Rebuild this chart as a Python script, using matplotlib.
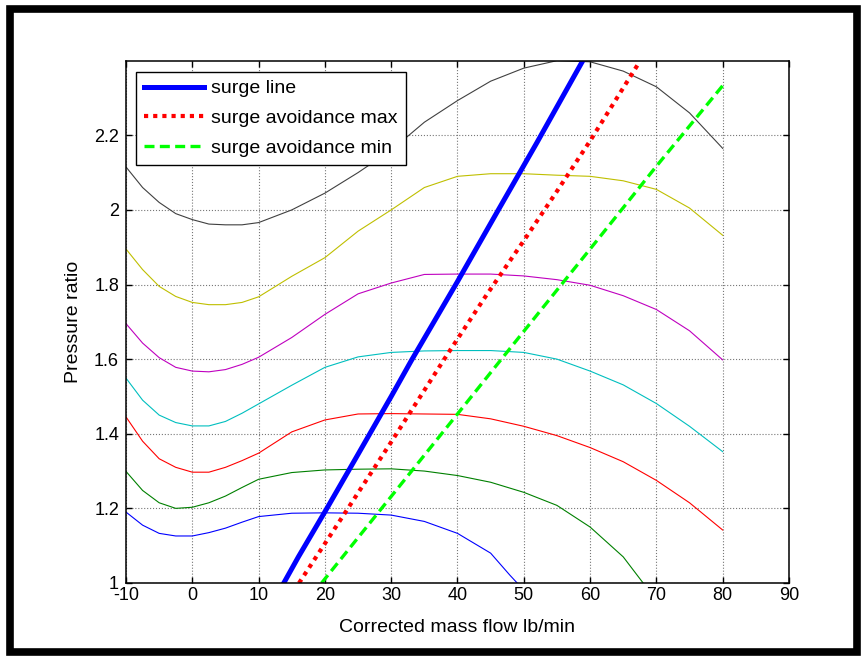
import matplotlib
matplotlib.use('Agg')
import matplotlib.pyplot as plt
from matplotlib.patches import Rectangle

plt.rcParams['font.family'] = ['Liberation Sans', 'DejaVu Sans']
plt.rcParams['axes.unicode_minus'] = False

# speed lines (constant corrected speed)
x_std = [-10, -7.5, -5, -2.5, 0, 2.5, 5, 7.5, 10, 15, 20, 25, 30, 35, 40, 45, 50, 55, 60, 65, 70, 75, 80]

pr_gray = [2.115, 2.06, 2.02, 1.99, 1.974, 1.962, 1.96, 1.96, 1.966, 2.0, 2.045, 2.1, 2.16, 2.235,
           2.293, 2.345, 2.38, 2.40, 2.397, 2.372, 2.33, 2.26, 2.165]
pr_yellow = [1.895, 1.84, 1.795, 1.768, 1.752, 1.746, 1.746, 1.752, 1.767, 1.822, 1.872, 1.943, 2.0,
             2.06, 2.09, 2.097, 2.097, 2.093, 2.09, 2.078, 2.055, 2.005, 1.932]
pr_magenta = [1.695, 1.643, 1.604, 1.578, 1.568, 1.566, 1.572, 1.586, 1.605, 1.658, 1.72, 1.775, 1.804,
              1.827, 1.828, 1.828, 1.823, 1.813, 1.798, 1.77, 1.733, 1.676, 1.598]
pr_cyan = [1.549, 1.49, 1.45, 1.43, 1.421, 1.421, 1.433, 1.455, 1.48, 1.53, 1.578, 1.606, 1.618,
           1.622, 1.623, 1.623, 1.618, 1.6, 1.568, 1.531, 1.481, 1.42, 1.352]
pr_red = [1.445, 1.38, 1.333, 1.31, 1.297, 1.297, 1.31, 1.328, 1.348, 1.405, 1.437, 1.453, 1.454,
          1.453, 1.452, 1.44, 1.42, 1.395, 1.363, 1.325, 1.275, 1.215, 1.142]

x_green = [-10, -7.5, -5, -2.5, 0, 2.5, 5, 7.5, 10, 15, 20, 25, 30, 35, 40, 45, 50, 55, 60, 65, 68]
pr_green = [1.299, 1.248, 1.215, 1.2, 1.203, 1.215, 1.233, 1.256, 1.278, 1.296, 1.303, 1.305, 1.306,
            1.3, 1.288, 1.27, 1.243, 1.208, 1.15, 1.07, 1.0]

x_blue = [-10, -7.5, -5, -2.5, 0, 2.5, 5, 7.5, 10, 15, 20, 25, 30, 35, 40, 45, 47.9, 49]
pr_blue = [1.19, 1.155, 1.133, 1.126, 1.126, 1.135, 1.147, 1.163, 1.178, 1.187, 1.188, 1.187, 1.182,
           1.165, 1.133, 1.08, 1.021, 1.0]

# surge line and avoidance lines
x_surge = [13.8, 16, 20.3, 25, 30, 33, 40, 46, 52, 58.9]
pr_surge = [1.0, 1.07, 1.2, 1.345, 1.5, 1.595, 1.808, 1.995, 2.181, 2.4]
x_smax = [16.1, 23, 30, 38.3, 44, 50.4, 55, 60, 67.5]
pr_smax = [1.0, 1.187, 1.378, 1.608, 1.762, 1.928, 2.05, 2.185, 2.398]
x_smin = [19.5, 30, 40, 46.4, 55, 60, 70, 80]
pr_smin = [1.0, 1.232, 1.453, 1.595, 1.785, 1.895, 2.117, 2.333]

speed_lines = [
    (x_std, pr_gray, (0.25, 0.25, 0.25)),
    (x_std, pr_yellow, (0.75, 0.75, 0)),
    (x_std, pr_magenta, (0.75, 0, 0.75)),
    (x_std, pr_cyan, (0, 0.75, 0.75)),
    (x_std, pr_red, (1, 0, 0)),
    (x_green, pr_green, (0, 0.5, 0)),
    (x_blue, pr_blue, (0, 0, 1)),
]

fig = plt.figure(figsize=(8.65, 6.58), dpi=100)
ax = fig.add_axes([0.1457, 0.114, 0.7664, 0.7938])

for xs, ys, c in speed_lines:
    ax.plot(xs, ys, color=c, lw=0.8)

ax.plot(x_surge, pr_surge, color='blue', lw=3.6, label='surge line')
ax.plot(x_smax, pr_smax, color='red', lw=3.0, linestyle=(0, (1, 1.2)), label='surge avoidance max')
ax.plot(x_smin, pr_smin, color=(0, 1, 0), lw=2.4, linestyle=(0, (3, 1.6)), label='surge avoidance min')

ax.set_xlim(-10, 90)
ax.set_ylim(1, 2.4)
ax.set_xticks(range(-10, 91, 10))
ax.set_yticks([1, 1.2, 1.4, 1.6, 1.8, 2, 2.2])
ax.set_yticklabels(['1', '1.2', '1.4', '1.6', '1.8', '2', '2.2'])
ax.tick_params(direction='in', length=4, width=1, top=True, right=True, labelsize=13)
ax.tick_params(axis='x', pad=3)
ax.tick_params(axis='y', pad=5)
ax.grid(True, linestyle=':', color='#777777', lw=0.8)
for s in ax.spines.values():
    s.set_linewidth(1.1)

ax.set_xlabel('Corrected mass flow lb/min', fontsize=14, labelpad=11)
ax.set_ylabel('Pressure ratio', fontsize=14, labelpad=9)

leg = ax.legend(loc='upper left', bbox_to_anchor=(0.015, 0.979), fontsize=14, handlelength=3.1,
                fancybox=False, framealpha=1, edgecolor='black', borderaxespad=0,
                labelspacing=0.62, handletextpad=0.36, borderpad=0.42)
leg.get_frame().set_linewidth(1.0)

# thick black frame around the whole picture
fig.patches.append(Rectangle((0.012, 0.009), 0.979, 0.978, transform=fig.transFigure,
                             fill=False, edgecolor='black', lw=5.5))

fig.savefig('out.png', dpi=100)
